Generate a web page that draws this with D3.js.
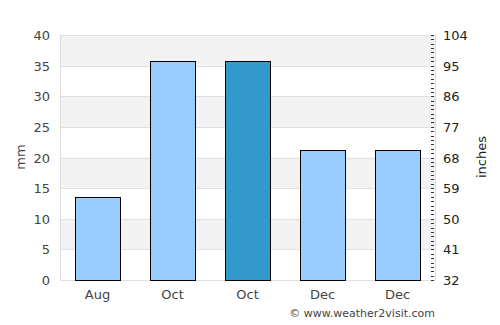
<!DOCTYPE html>
<html>
<head>
<meta charset="utf-8">
<script src="https://cdn.jsdelivr.net/npm/d3@7"></script>
<style>
  body { margin: 0; background: #fff; }
  text { font-family: "DejaVu Sans", sans-serif; }
</style>
</head>
<body>
<div id="chart"></div>
<script>
var months = ["Aug", "Oct", "Oct", "Dec", "Dec"];
var rainfall = [13.6, 35.7, 35.7, 21.2, 21.2];
var highlight = [false, false, true, false, false];
var mmTicks = [0, 5, 10, 15, 20, 25, 30, 35, 40];
var inchTicks = [32, 41, 50, 59, 68, 77, 86, 95, 104];

var width = 500, height = 325;
var plotLeft = 60, plotRight = 435, plotTop = 35, plotBottom = 280;

var svg = d3.select("#chart").append("svg")
    .attr("width", width)
    .attr("height", height);

var x = d3.scaleBand()
    .domain(d3.range(months.length))
    .range([plotLeft, plotRight])
    .paddingInner(0.4)
    .paddingOuter(0.2);

var y = d3.scaleLinear().domain([0, 40]).range([plotBottom, plotTop]);
var y2 = d3.scaleLinear().domain([32, 104]).range([plotBottom, plotTop]);

// alternating bands
for (var i = 0; i < mmTicks.length - 1; i++) {
    if (i % 2 == 1) {
        svg.append("rect")
            .attr("x", plotLeft)
            .attr("y", y(mmTicks[i + 1]))
            .attr("width", plotRight - plotLeft)
            .attr("height", y(mmTicks[i]) - y(mmTicks[i + 1]))
            .attr("fill", "#f2f2f2");
    }
}

svg.selectAll("line.grid")
    .data(mmTicks)
    .enter()
    .append("line")
    .attr("class", "grid")
    .attr("x1", plotLeft)
    .attr("x2", plotRight)
    .attr("y1", d => Math.round(y(d)) + 0.5)
    .attr("y2", d => Math.round(y(d)) + 0.5)
    .attr("stroke", "#e0e0e0");

svg.append("line")
    .attr("x1", plotLeft + 0.5).attr("x2", plotLeft + 0.5)
    .attr("y1", plotTop).attr("y2", plotBottom)
    .attr("stroke", "#dcdcdc");
svg.append("line")
    .attr("x1", plotRight + 0.5).attr("x2", plotRight + 0.5)
    .attr("y1", plotTop).attr("y2", plotBottom)
    .attr("stroke", "#dcdcdc");

// right axis minor ticks
var minor = [];
for (var k = 0; k < inchTicks.length - 1; k++) {
    for (var m = 0; m < 7; m++) {
        minor.push(inchTicks[k] + m * 9 / 7);
    }
}
minor.push(104);
svg.selectAll("line.minor")
    .data(minor)
    .enter()
    .append("line")
    .attr("class", "minor")
    .attr("x1", plotRight - 4)
    .attr("x2", plotRight - 1)
    .attr("y1", d => Math.round(y2(d)) + 0.5)
    .attr("y2", d => Math.round(y2(d)) + 0.5)
    .attr("stroke", "#333");

svg.selectAll("rect.bar")
    .data(rainfall)
    .enter()
    .append("rect")
    .attr("class", "bar")
    .attr("x", (d, i) => Math.round(x(i)) + 0.5)
    .attr("y", d => Math.round(y(d)) + 0.5)
    .attr("width", x.bandwidth())
    .attr("height", d => plotBottom - Math.round(y(d)))
    .attr("fill", (d, i) => highlight[i] ? "#3399cc" : "#99ccff")
    .attr("stroke", "#000")
    .attr("stroke-width", 1);

svg.selectAll("text.ly")
    .data(mmTicks)
    .enter()
    .append("text")
    .attr("x", 50)
    .attr("y", d => y(d) + 5)
    .attr("text-anchor", "end")
    .attr("font-size", 13)
    .attr("fill", "#444")
    .text(d => d);

svg.selectAll("text.ry")
    .data(inchTicks)
    .enter()
    .append("text")
    .attr("x", 443)
    .attr("y", d => y2(d) + 5)
    .attr("font-size", 13)
    .attr("fill", "#222")
    .text(d => d);

svg.selectAll("text.xl")
    .data(months)
    .enter()
    .append("text")
    .attr("x", (d, i) => x(i) + x.bandwidth() / 2)
    .attr("y", 299)
    .attr("text-anchor", "middle")
    .attr("font-size", 13)
    .attr("fill", "#444")
    .text(d => d);

svg.append("text")
    .attr("transform", "translate(25,157) rotate(-90)")
    .attr("text-anchor", "middle")
    .attr("font-size", 13)
    .attr("fill", "#444")
    .text("mm");

svg.append("text")
    .attr("transform", "translate(486,157) rotate(-90)")
    .attr("text-anchor", "middle")
    .attr("font-size", 13)
    .attr("fill", "#222")
    .text("inches");

svg.append("text")
    .attr("x", 435)
    .attr("y", 317)
    .attr("text-anchor", "end")
    .attr("font-size", 11)
    .attr("fill", "#444")
    .text("© www.weather2visit.com");
</script>
</body>
</html>
